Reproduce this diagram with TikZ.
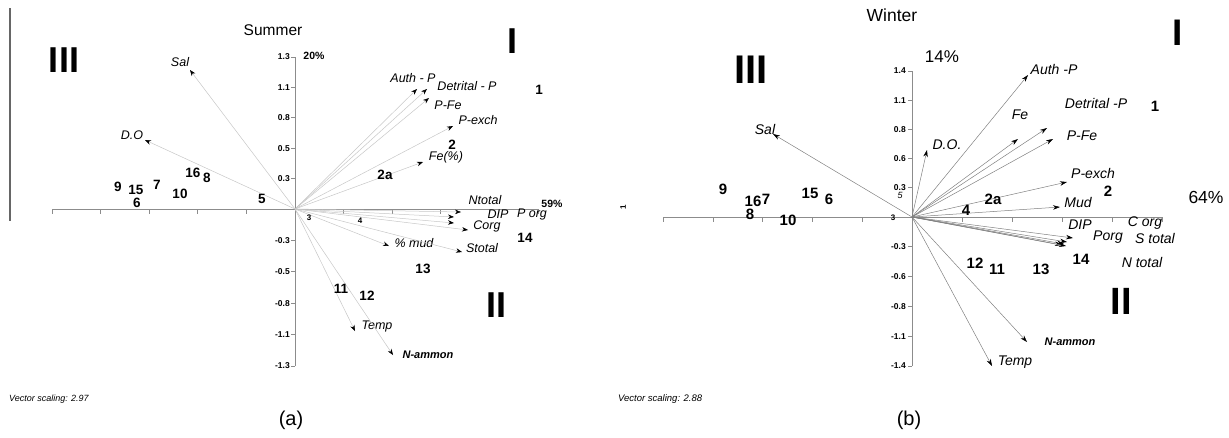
\documentclass[tikz,border=0pt]{standalone}
\usepackage{fontspec}
\setmainfont{Liberation Sans}
\usetikzlibrary{arrows.meta}
\newcommand\myfs[1]{\fontsize{#1}{#1}\selectfont}
\tikzset{
  axisline/.style={draw=black!45,line width=0.8pt},
  ticklab/.style={anchor=east,inner sep=0pt,font=\bfseries\myfs{8.5}},
  vecA/.style={draw=black!22,line width=0.5pt,-{Stealth[length=6pt,width=4.5pt,color=black]}},
  vecB/.style={draw=black!50,line width=0.5pt,-{Stealth[length=7pt,width=4.5pt,color=black]}},
  vlabA/.style={inner sep=0pt,font=\itshape\myfs{12.5}},
  vlabB/.style={inner sep=0pt,font=\itshape\myfs{14}},
  namlab/.style={inner sep=0pt,font=\bfseries\itshape\myfs{11}},
  sampA/.style={inner sep=0pt,font=\bfseries\myfs{13.5}},
  sampB/.style={inner sep=0pt,font=\bfseries\myfs{15}},
  smallsamp/.style={inner sep=0pt,font=\bfseries\myfs{8}},
  quad/.style={inner sep=0pt,font=\bfseries\myfs{36}},
  pct/.style={inner sep=0pt,font=\bfseries\myfs{10.5}},
}
\begin{document}
\begin{tikzpicture}[x=1pt,y=-1pt]
\useasboundingbox (0,0) rectangle (1229,437);
% ================= (a) Summer =================
\draw[draw=black!60,line width=1.6pt] (10,8) -- (10,221);
\coordinate (aO) at (295,209);
\coordinate (aXL) at (52,209);
\coordinate (aXR) at (538,209);
\coordinate (aYT) at (295,57);
\coordinate (aYB) at (295,366);
\draw[axisline] (aXL) -- (aXR);
\draw[axisline] (aYT) -- (aYB);
\foreach \i in {0,...,10} \draw[axisline] (52+48.6*\i,209) -- ++(0,5);
\foreach \v/\y in {1.3/57,1.1/87.4,0.8/117.8,0.5/148.2,0.3/178.6,-0.3/240.4,-0.5/271.8,-0.8/303.2,-1.1/334.6,-1.3/366}{
  \draw[axisline] (295,\y) -- ++(-4,0);
  \node[ticklab] (at\v) at (290,\y) {\v};
}
\node[inner sep=0pt,font=\myfs{15.5}] (asum) at (273,30) {Summer};
\node[pct] (a20) at (314,56) {20\%};
\node[pct] (a59) at (552,204) {59\%};
\node[quad] (aIII) at (64,60) {III};
\node[quad] (aI) at (512,41) {I};
\node[quad] (aII) at (496,305) {II};
\foreach \k/\tx/\ty/\lx/\ly/\t in {
  sal/190/70/180/62/Sal,
  do/145/140/132/135/D.O,
  auth/417/89/413/78/Auth - P,
  detr/427/89/467/86/Detrital - P,
  pfe/429/98/448/105/P-Fe,
  pex/453/126/478/120/P-exch,
  fe/423/162/446/157/Fe(\%),
  ntot/461/212/485/200/Ntotal,
  dip/454/217/498/214/DIP,
  porg/454/223/532/214/P org,
  corg/468/230/487/226/Corg,
  mud/389/246/414/243/\% mud,
  stot/462/252/482/248/Stotal,
  temp/355/331/377/326/Temp}{
  \coordinate (aT\k) at (\tx,\ty);
  \draw[vecA] (aO) -- (aT\k);
  \node[vlabA] (aL\k) at (\lx,\ly) {\t};
}
\coordinate (aTnam) at (393,355);
\draw[vecA] (aO) -- (aTnam);
\node[namlab] (aLnam) at (428,355) {N-ammon};
\foreach \n/\x/\y in {1/539/90,2/452/145,2a/385/175,5/262/199,6/137/203,7/157/185,8/207/178,9/118/187,10/180/194,11/341/289,12/367/296,13/423/269,14/525/238,15/136/190,16/193/173}
  \node[sampA] (as\n) at (\x,\y) {\n};
\node[smallsamp] (as3) at (309,218) {3};
\node[smallsamp] (as4) at (360,221) {4};
\node[anchor=west,inner sep=0pt,font=\itshape\myfs{9}] (avs) at (9,399) {Vector scaling: 2.97};
\node[inner sep=0pt,font=\myfs{20}] (acap) at (291,420) {(a)};
% ================= (b) Winter =================
\coordinate (bO) at (912,217);
\coordinate (bXL) at (663,217);
\coordinate (bXR) at (1162,217);
\coordinate (bYT) at (912,71);
\coordinate (bYB) at (912,366);
\draw[axisline] (bXL) -- (bXR);
\draw[axisline] (bYT) -- (bYB);
\foreach \i in {0,...,10} \draw[axisline] (663+49.9*\i,217) -- ++(0,5);
\foreach \v/\y in {1.4/71,1.1/100.2,0.8/129.4,0.6/158.6,0.3/187.8,-0.3/246.8,-0.6/276.6,-0.8/306.4,-1.1/336.2,-1.4/366}{
  \draw[axisline] (912,\y) -- ++(-4,0);
  \node[ticklab] (bt\v) at (906,\y) {\v};
}
\node[inner sep=0pt,font=\myfs{17.5}] (bwin) at (892,15) {Winter};
\node[inner sep=0pt,font=\myfs{17}] (b14) at (942,57) {14\%};
\node[inner sep=0pt,font=\myfs{17.5}] (b64) at (1206,197) {64\%};
\node[quad,font=\bfseries\myfs{40}] (bIII) at (751,70) {III};
\node[quad,font=\bfseries\myfs{37}] (bI) at (1178,33) {I};
\node[quad,font=\bfseries\myfs{38}] (bII) at (1121,301) {II};
\node[rotate=90,inner sep=0pt,font=\bfseries\myfs{8}] (brot) at (623,207) {1};
\foreach \k/\tx/\ty/\lx/\ly/\t in {
  sal/773/134/765/129/Sal,
  do/927/150/947/145/D.O.,
  auth/1028/75/1054/69/Auth -P,
  fe/1018/139/1020/115/Fe,
  detr/1047/128/1096/103/Detrital -P,
  pfe/1053/139/1082/136/P-Fe,
  pex/1067/182/1093/173/P-exch,
  mud/1060/207/1078/202/Mud,
  dip/1073/238/1080/225/DIP,
  porg/1067/242/1108/237/Porg,
  corg/1064/244/1145/223/C org,
  stot/1062/245/1155/238/S total,
  ntot/1066/246/1142/262/N total,
  temp/992/366/1015/362/Temp}{
  \coordinate (bT\k) at (\tx,\ty);
  \draw[vecB] (bO) -- (bT\k);
  \node[vlabB] (bL\k) at (\lx,\ly) {\t};
}
\coordinate (bTnam) at (1027,342);
\draw[vecB] (bO) -- (bTnam);
\node[namlab] (bLnam) at (1070,342) {N-ammon};
\foreach \n/\x/\y in {1/1155/106,2/1108/191,2a/993/199,4/966/210,6/829/199,7/766/199,8/750/214,9/723/189,10/788/220,11/997/269,12/975/263,13/1041/269,14/1081/259,15/810/193,16/753/201}
  \node[sampB] (bs\n) at (\x,\y) {\n};
\node[smallsamp] (bs3) at (893,218) {3};
\node[smallsamp,font=\itshape\myfs{9}] (bs5) at (900,195) {5};
\node[anchor=west,inner sep=0pt,font=\itshape\myfs{9.5}] (bvs) at (618,399) {Vector scaling: 2.88};
\node[inner sep=0pt,font=\myfs{20}] (bcap) at (909,420) {(b)};
\end{tikzpicture}
\end{document}
